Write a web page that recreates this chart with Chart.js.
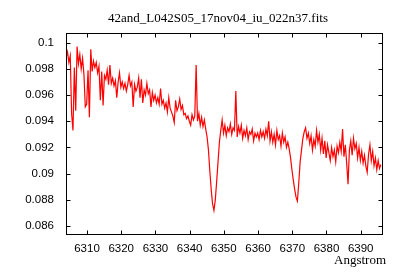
<!DOCTYPE html>
<html>
<head>
<meta charset="utf-8">
<script src="https://cdn.jsdelivr.net/npm/chart.js@4/dist/chart.umd.min.js"></script>
<style>
  html, body { margin: 0; padding: 0; background: #fff; }
  canvas { display: block; }
</style>
</head>
<body>
<canvas id="spectrum" width="400" height="280"></canvas>
<script>
// spectrum header: first wavelength and step (Angstrom)
var crval1 = 6303.9;
var cdelt1 = 0.4;

// flux, one value per wavelength step
var flux = [
  0.0989, 0.0993, 0.0985, 0.0990, 0.0946, 0.0933, 0.0981, 0.0948, 0.0997, 0.0984,
  0.0991, 0.0980, 0.0988, 0.0976, 0.0951, 0.0953, 0.0979, 0.0943, 0.0995, 0.0978,
  0.0986, 0.0981, 0.0985, 0.0977, 0.0982, 0.0956, 0.0978, 0.0952, 0.0975, 0.0972,
  0.0979, 0.0968, 0.0983, 0.0969, 0.0973, 0.0967, 0.0971, 0.0958, 0.0970, 0.0977,
  0.0966, 0.0970, 0.0965, 0.0969, 0.0963, 0.0968, 0.0975, 0.0967, 0.0970, 0.0951,
  0.0968, 0.0963, 0.0966, 0.0973, 0.0958, 0.0972, 0.0954, 0.0964, 0.0960, 0.0969,
  0.0961, 0.0964, 0.0951, 0.0962, 0.0956, 0.0960, 0.0954, 0.0958, 0.0953, 0.0965,
  0.0953, 0.0956, 0.0950, 0.0954, 0.0947, 0.0958, 0.0950, 0.0947, 0.0944, 0.0939,
  0.0956, 0.0948, 0.0951, 0.0957, 0.0949, 0.0952, 0.0945, 0.0946, 0.0942, 0.0944,
  0.0940, 0.0937, 0.0945, 0.0941, 0.0944, 0.0983, 0.0940, 0.0946, 0.0937, 0.0943,
  0.0936, 0.0941, 0.0934, 0.0928, 0.0918, 0.0902, 0.0888, 0.0877, 0.0872, 0.0880,
  0.0894, 0.0909, 0.0924, 0.0933, 0.0941, 0.0931, 0.0937, 0.0929, 0.0935, 0.0932,
  0.0938, 0.0930, 0.0935, 0.0933, 0.0963, 0.0928, 0.0936, 0.0931, 0.0937, 0.0927,
  0.0933, 0.0929, 0.0935, 0.0926, 0.0932, 0.0930, 0.0934, 0.0925, 0.0931, 0.0928,
  0.0931, 0.0926, 0.0933, 0.0928, 0.0932, 0.0927, 0.0934, 0.0929, 0.0940, 0.0925,
  0.0932, 0.0924, 0.0930, 0.0922, 0.0933, 0.0926, 0.0929, 0.0921, 0.0931, 0.0924,
  0.0928, 0.0920, 0.0924, 0.0919, 0.0912, 0.0903, 0.0895, 0.0888, 0.0882, 0.0879,
  0.0893, 0.0909, 0.0918, 0.0927, 0.0932, 0.0935, 0.0927, 0.0931, 0.0923, 0.0929,
  0.0918, 0.0926, 0.0921, 0.0933, 0.0924, 0.0930, 0.0918, 0.0927, 0.0915, 0.0925,
  0.0912, 0.0922, 0.0916, 0.0910, 0.0920, 0.0913, 0.0918, 0.0909, 0.0921, 0.0916,
  0.0924, 0.0917, 0.0934, 0.0913, 0.0922, 0.0908, 0.0892, 0.0918, 0.0925, 0.0914,
  0.0927, 0.0919, 0.0923, 0.0912, 0.0920, 0.0910, 0.0917, 0.0908, 0.0914, 0.0906,
  0.0901, 0.0915, 0.0922, 0.0910, 0.0917, 0.0906, 0.0912, 0.0903, 0.0910, 0.0904,
  0.0907
];

var xTicks = [6310, 6320, 6330, 6340, 6350, 6360, 6370, 6380, 6390];
var yTicks = [0.086, 0.088, 0.09, 0.092, 0.094, 0.096, 0.098, 0.1];

var plotTitle = "42and_L042S05_17nov04_iu_022n37.fits";
var xTitle = "Angstrom";

var points = flux.map(function (f, i) {
  return { x: crval1 + i * cdelt1, y: f };
});

// gnuplot style box: border, inward ticks on all sides, titles
var gnuFrame = {
  id: "gnuFrame",
  afterDraw: function (chart) {
    var ctx = chart.ctx;
    var a = chart.chartArea;
    var sx = chart.scales.x;
    var sy = chart.scales.y;
    var L = Math.round(a.left) + 0.5, R = Math.round(a.right) + 0.5;
    var T = Math.round(a.top) + 0.5, B = Math.round(a.bottom) + 0.5;
    ctx.save();
    ctx.strokeStyle = "#000";
    ctx.lineWidth = 1;
    ctx.strokeRect(L, T, R - L, B - T);
    ctx.beginPath();
    xTicks.forEach(function (v) {
      var x = Math.round(sx.getPixelForValue(v)) + 0.5;
      ctx.moveTo(x, B); ctx.lineTo(x, B - 4);
      ctx.moveTo(x, T); ctx.lineTo(x, T + 4);
    });
    yTicks.forEach(function (v) {
      var y = Math.round(sy.getPixelForValue(v)) + 0.5;
      ctx.moveTo(L, y); ctx.lineTo(L + 4, y);
      ctx.moveTo(R, y); ctx.lineTo(R - 4, y);
    });
    ctx.stroke();

    ctx.fillStyle = "#000";
    ctx.font = "13px 'Liberation Serif'";
    ctx.textBaseline = "alphabetic";
    ctx.textAlign = "center";
    ctx.fillText(plotTitle, 218, 22);
    ctx.textAlign = "right";
    ctx.fillText(xTitle, 386, 264);
    ctx.restore();
  }
};

var ctx = document.getElementById("spectrum").getContext("2d");
var spectrumChart = new Chart(ctx, {
  type: "line",
  data: {
    datasets: [
      {
        data: points,
        borderColor: "#ff0000",
        borderWidth: 1.2,
        pointRadius: 0,
        fill: false,
        tension: 0
      }
    ]
  },
  options: {
    responsive: false,
    animation: false,
    devicePixelRatio: 1,
    layout: { padding: { left: 0, right: 18.5, top: 33, bottom: 0 } },
    plugins: {
      legend: { display: false },
      tooltip: { enabled: false },
      title: { display: false }
    },
    scales: {
      x: {
        type: "linear",
        min: 6303.86,
        max: 6396.08,
        grid: { display: false, drawTicks: false },
        border: { display: false },
        afterBuildTicks: function (scale) {
          scale.ticks = xTicks.map(function (v) { return { value: v }; });
        },
        afterFit: function (scale) { scale.height = 46; },
        ticks: {
          autoSkip: false,
          maxRotation: 0,
          padding: 8,
          color: "#000",
          font: { family: "'Liberation Sans'", size: 11.5 },
          callback: function (v) { return String(v); }
        }
      },
      y: {
        min: 0.08539,
        max: 0.10074,
        grid: { display: false, drawTicks: false },
        border: { display: false },
        afterBuildTicks: function (scale) {
          scale.ticks = yTicks.map(function (v) { return { value: v }; });
        },
        afterFit: function (scale) { scale.width = 66; },
        ticks: {
          autoSkip: false,
          padding: 12,
          color: "#000",
          font: { family: "'Liberation Sans'", size: 11.5 },
          callback: function (v) { return String(v); }
        }
      }
    }
  },
  plugins: [gnuFrame]
});
</script>
</body>
</html>
